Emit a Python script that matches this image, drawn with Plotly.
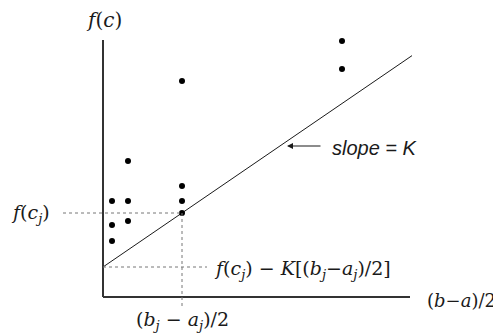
import plotly.graph_objects as go

# sample points: half-widths of intervals and f(c) at their centres
half_width = [0.9, 0.9, 0.9, 2.5, 2.5, 2.5, 7.9, 7.9, 7.9, 7.9, 23.9, 23.9]
f_vals = [9.6, 7.2, 5.6, 9.6, 7.6, 13.6, 8.4, 9.6, 11.1, 21.6, 25.6, 22.8]

# the lower bound line with slope K
K = 0.684
intercept = 3.0
line_x = [0, 30.9]
line_y = [intercept + K * x for x in line_x]

# chosen point j
xj, yj = 7.9, 8.4

serif = "DejaVu Serif"
ink = "#1a1a1a"

fig = go.Figure()

fig.add_trace(go.Scatter(x=line_x, y=line_y, mode="lines",
                         line=dict(color=ink, width=1)))
fig.add_trace(go.Scatter(x=half_width, y=f_vals, mode="markers",
                         marker=dict(color="black", size=6)))

# axes drawn as shapes so they stop short like the original
fig.add_shape(type="line", x0=0, y0=0, x1=0, y1=25.7,
              line=dict(color="#333", width=2))
fig.add_shape(type="line", x0=0, y0=0, x1=30.7, y1=0,
              line=dict(color="#333", width=2))

dot = dict(color="#777", width=1, dash="dot")
fig.add_shape(type="line", x0=-4.0, y0=yj, x1=xj, y1=yj, line=dot)
fig.add_shape(type="line", x0=xj, y0=yj, x1=xj, y1=-1.0, line=dot)
fig.add_shape(type="line", x0=0, y0=intercept, x1=10.4, y1=intercept, line=dot)

labels = [
    dict(x=0.1, y=27.7, text="<i>f</i>(<i>c</i>)", size=20, anchor="center"),
    dict(x=-7.3, y=yj, text="<i>f</i>(<i>c<sub>j</sub></i>)", size=19, anchor="center"),
    dict(x=10.9, y=intercept - 0.2,
         text="<i>f</i>(<i>c<sub>j</sub></i>) \u2212 <i>K</i>[(<i>b<sub>j</sub></i>\u2212<i>a<sub>j</sub></i>)/2]",
         size=19, anchor="left"),
    dict(x=32.2, y=-0.3, text="(<i>b</i>\u2212<i>a</i>)/2", size=18, anchor="left"),
    dict(x=xj, y=-2.3, text="(<i>b<sub>j</sub></i> \u2212 <i>a<sub>j</sub></i>)/2",
         size=19, anchor="center"),
]
for lb in labels:
    fig.add_annotation(x=lb["x"], y=lb["y"], text=lb["text"], showarrow=False,
                       xanchor=lb["anchor"],
                       font=dict(family=serif, size=lb["size"], color=ink))

fig.add_annotation(x=18.4, y=15.1, ax=35, ay=0, text="", showarrow=True,
                   arrowhead=2, arrowsize=1, arrowwidth=1.2, arrowcolor=ink)
fig.add_annotation(x=22.7, y=14.9, text="<i>slope = K</i>", showarrow=False,
                   xanchor="left",
                   font=dict(family="Liberation Sans", size=20, color=ink))

# page body adds an 8px offset, so axis ranges span the whole figure
fig.update_layout(
    width=501, height=336,
    margin=dict(l=0, r=0, t=0, b=0),
    paper_bgcolor="white", plot_bgcolor="white",
    showlegend=False,
    xaxis=dict(range=[-9.5, 40.6], visible=False),
    yaxis=dict(range=[-4.7, 28.9], visible=False),
)

fig.write_html("out.html")
